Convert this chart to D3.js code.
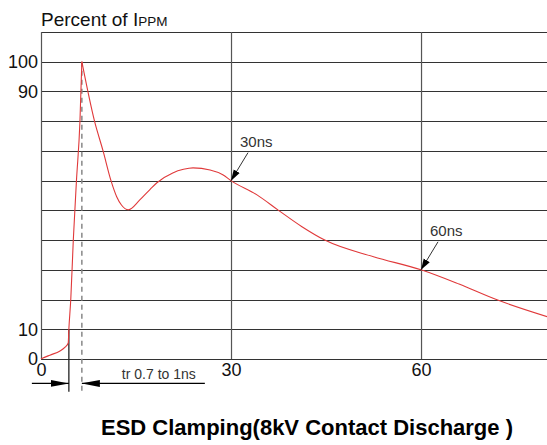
<!DOCTYPE html>
<html>
<head>
<meta charset="utf-8">
<script src="https://cdn.jsdelivr.net/npm/d3@7"></script>
<style>
  body { margin: 0; background: #fff; }
  svg { display: block; font-family: "Liberation Sans", Arial, sans-serif; }
</style>
</head>
<body>
<script>
// waveform: time in ns, current in % of Ippm
var timeNs  = [0, 0.3, 1.4, 3.0, 3.8, 4.3, 4.4, 4.7, 5.1, 5.6, 6.15, 6.45,
               8.45, 9.8, 11.05, 11.95, 12.7, 13.8, 15.6, 17.2, 18.3, 20.8, 22.5, 24.0,
               26.7, 28.7, 30, 34.1, 37.5, 41.2, 44.8, 52.5, 60, 66, 72, 80];
var percent = [0, 0.3, 1.3, 2.7, 4, 5.4, 10, 20, 40, 60, 80, 100,
               80, 70, 60, 54.6, 51.8, 50.2, 53.5, 57, 59.3, 62.6, 63.8, 64.3,
               63.6, 62, 60, 55.2, 50, 44.5, 40, 34.4, 30, 25.2, 19.9, 14.2];
var peakIndex = 11;

var yGrid = [0, 10, 20, 30, 40, 50, 60, 70, 80, 90, 100, 110];
var yTickLabels = [0, 10, 90, 100];
var xGrid = [0, 30, 60];

// rise time markers (ns) and the two callouts
var riseStart = 4.4, risePeak = 6.45;
var calloutLabels = ["30ns", "60ns"];
var calloutTime = [30, 60];
var calloutPct = [60, 30];

var W = 547, H = 445;
var margin = {top: 32, right: 0, bottom: 86, left: 41};

var svg = d3.select("body").append("svg")
    .attr("width", W)
    .attr("height", H);

var x = d3.scaleLinear().domain([0, 80]).range([margin.left, W - margin.right + 0.7]);
var y = d3.scaleLinear().domain([0, 110]).range([H - margin.bottom, margin.top]);

// arrow heads
var defs = svg.append("defs");
defs.append("marker")
    .attr("id", "head")
    .attr("viewBox", "0 -4 11 8")
    .attr("refX", 11).attr("refY", 0)
    .attr("markerUnits", "userSpaceOnUse")
    .attr("markerWidth", 11).attr("markerHeight", 8)
    .attr("orient", "auto")
  .append("path").attr("d", "M0,-3.5L11,0L0,3.5Z").attr("fill", "#000");
defs.append("marker")
    .attr("id", "headLong")
    .attr("viewBox", "0 -4 18 8")
    .attr("refX", 18).attr("refY", 0)
    .attr("markerUnits", "userSpaceOnUse")
    .attr("markerWidth", 18).attr("markerHeight", 8)
    .attr("orient", "auto")
  .append("path").attr("d", "M0,-3.5L18,0L0,3.5Z").attr("fill", "#000");

// horizontal grid + y labels
var yAxis = svg.append("g")
    .attr("transform", "translate(" + margin.left + ",0)")
    .call(d3.axisLeft(y)
        .tickValues(yGrid)
        .tickSize(-(x.range()[1] - margin.left))
        .tickPadding(3)
        .tickFormat(function(d) { return yTickLabels.indexOf(d) >= 0 ? d : ""; }));
yAxis.select(".domain").remove();
yAxis.selectAll("line").attr("stroke", "#333").attr("shape-rendering", "crispEdges");
yAxis.selectAll("text").attr("font-size", 18).attr("fill", "#111")
    .attr("font-family", "Liberation Sans, Arial, sans-serif");

// vertical grid + x labels
var xAxis = svg.append("g")
    .attr("transform", "translate(0," + y(0) + ")")
    .call(d3.axisBottom(x)
        .tickValues(xGrid)
        .tickSize(-(y(0) - y(110)))
        .tickPadding(4));
xAxis.select(".domain").remove();
xAxis.selectAll("line").attr("stroke", "#555").attr("stroke-width", 1.2);
xAxis.selectAll("text").attr("font-size", 18).attr("fill", "#111")
    .attr("font-family", "Liberation Sans, Arial, sans-serif");

// rise time guides
svg.append("line")
    .attr("x1", x(risePeak)).attr("x2", x(risePeak))
    .attr("y1", y(100)).attr("y2", y(-11))
    .attr("stroke", "#888").attr("stroke-width", 1.5)
    .attr("stroke-dasharray", "5,4");
svg.append("line")
    .attr("x1", x(riseStart)).attr("x2", x(riseStart))
    .attr("y1", y(10)).attr("y2", y(-11))
    .attr("stroke", "#222").attr("stroke-width", 1.3);

// waveform, drawn as rise and decay so the peak stays sharp
var line = d3.line()
    .x(function(d) { return x(timeNs[d]); })
    .y(function(d) { return y(percent[d]); })
    .curve(d3.curveMonotoneX);
var idx = d3.range(timeNs.length);
[idx.slice(0, peakIndex + 1), idx.slice(peakIndex)].forEach(function(part) {
    svg.append("path")
        .attr("d", line(part))
        .attr("fill", "none")
        .attr("stroke", "#e0393a")
        .attr("stroke-width", 1.1);
});

// tr arrows
var arrowY = y(-8.2);
svg.append("line")
    .attr("x1", x(riseStart) - 37).attr("x2", x(riseStart))
    .attr("y1", arrowY).attr("y2", arrowY)
    .attr("stroke", "#000").attr("stroke-width", 1.2)
    .attr("marker-end", "url(#headLong)");
svg.append("line")
    .attr("x1", x(risePeak) + 123).attr("x2", x(risePeak))
    .attr("y1", arrowY).attr("y2", arrowY)
    .attr("stroke", "#000").attr("stroke-width", 1.2)
    .attr("marker-end", "url(#headLong)");
svg.append("text")
    .attr("x", x(risePeak) + 40).attr("y", arrowY - 4)
    .attr("font-size", 14).attr("fill", "#333")
    .text("tr 0.7 to 1ns");

// callouts
calloutLabels.forEach(function(lab, i) {
    var tx = x(calloutTime[i]), ty = y(calloutPct[i]);
    svg.append("line")
        .attr("x1", tx + 17).attr("y1", ty - 28)
        .attr("x2", tx).attr("y2", ty)
        .attr("stroke", "#333").attr("stroke-width", 1)
        .attr("marker-end", "url(#head)");
    svg.append("text")
        .attr("x", tx + 9).attr("y", ty - 34)
        .attr("font-size", 15).attr("fill", "#333")
        .text(lab);
});

// y title
var title = svg.append("text")
    .attr("x", margin.left).attr("y", 26)
    .attr("font-size", 19).attr("fill", "#111")
    .text("Percent of I");
title.append("tspan").attr("font-size", 13.5).text("PPM");

// caption
svg.append("text")
    .attr("x", 307).attr("y", 435)
    .attr("text-anchor", "middle")
    .attr("font-size", 22).attr("font-weight", "bold").attr("fill", "#000")
    .text("ESD Clamping(8kV Contact Discharge )");
</script>
</body>
</html>
